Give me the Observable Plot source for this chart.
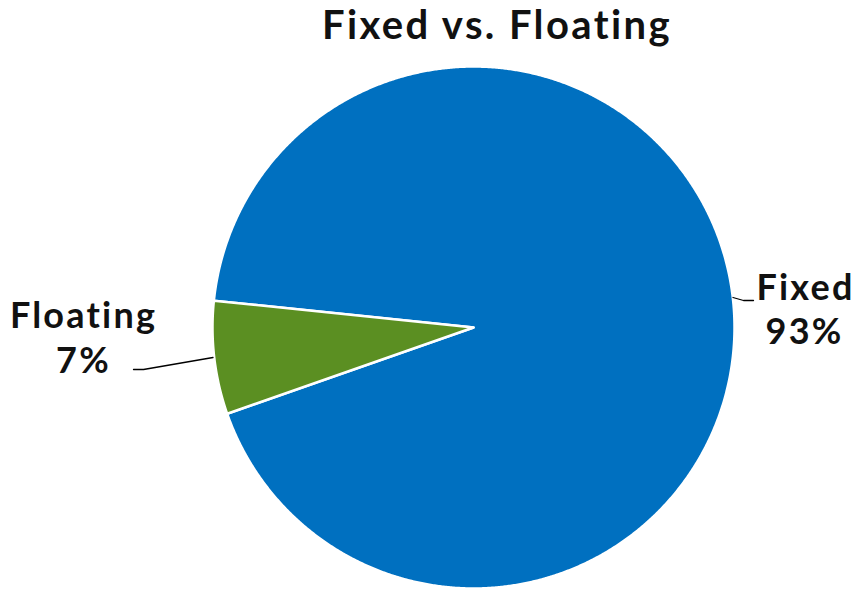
<!DOCTYPE html>
<html>
<head>
<meta charset="utf-8">
<script src="https://cdn.jsdelivr.net/npm/d3@7"></script>
<script src="https://cdn.jsdelivr.net/npm/@observablehq/plot@0.6"></script>
<style>
  html, body { margin: 0; padding: 0; background: #fff; }
  #wrap { position: relative; width: 854px; height: 590px; overflow: hidden; }
  #title { position: absolute; left: 0; top: 0; width: 854px; height: 52px;
    font-family: Lato, "Open Sans", sans-serif; font-weight: 700; font-size: 40px;
    letter-spacing: 2.4px; font-variant-ligatures: none; color: #111; }
  #title span { position: absolute; left: 497px; top: 0px; transform: translateX(-50%); white-space: nowrap; }
  #chart { position: absolute; left: 0; top: 52px; }
  #chart text { font-variant-ligatures: none; }
</style>
</head>
<body>
<div id="wrap">
  <div id="title"><span>Fixed vs. Floating</span></div>
  <div id="chart"></div>
</div>
<script>
const categories = ["Fixed", "Floating"];
const values = [93, 7];
const labels = ["93%", "7%"];
const colors = ["#0070C0", "#5B8F22"];

const W = 854, H = 538, top0 = 52;
const cx = 473, cy = 327 - top0, R = 261;

const pie = d3.pie().sort(null)
  .startAngle(-84.1 * Math.PI / 180)
  .endAngle((360 - 84.1) * Math.PI / 180);
const arcs = pie(values);

// Polygon outline of each slice, generated from the pie layout
const slicePts = [];
arcs.forEach((a, i) => {
  const n = Math.max(2, Math.ceil((a.endAngle - a.startAngle) / 0.005));
  slicePts.push({cat: categories[i], x: 0, y: 0});
  for (let j = 0; j <= n; j++) {
    const t = a.startAngle + (a.endAngle - a.startAngle) * j / n;
    slicePts.push({cat: categories[i], x: Math.sin(t), y: Math.cos(t)});
  }
  slicePts.push({cat: categories[i], x: 0, y: 0});
});

// Label layout in page pixels (converted to unit-circle coordinates)
const px = x => (x - cx) / R;
const py = y => (cy - (y - top0)) / R;
const fs = 36;
const lineY = b => b - 0.32 * fs; // baseline -> middle
const labelLayout = [
  [{x: 805, b: 299}, {x: 804, b: 343}],
  [{x: 83, b: 327}, {x: 83, b: 372}]
];
const labelData = categories.flatMap((c, i) => [
  {text: c, x: px(labelLayout[i][0].x), y: py(lineY(labelLayout[i][0].b))},
  {text: labels[i], x: px(labelLayout[i][1].x), y: py(lineY(labelLayout[i][1].b))}
]);

const leaderLayout = [
  [[732.5, 297], [743, 300], [753, 300]],
  [[212.5, 357], [143, 369], [133, 369]]
];
const leaders = leaderLayout.flatMap((pts, i) =>
  pts.map(([x, y]) => ({x: px(x), y: py(y), cat: categories[i]})));

const colorMap = new Map(categories.map((c, i) => [c, colors[i]]));

const chart = Plot.plot({
  width: W, height: H,
  margin: 0,
  style: {fontVariantLigatures: "none"},
  x: {domain: [-1, 1], range: [cx - R, cx + R], axis: null},
  y: {domain: [-1, 1], range: [cy + R, cy - R], axis: null},
  marks: [
    Plot.line(slicePts, {x: "x", y: "y", z: "cat", fill: d => colorMap.get(d.cat), stroke: "white", strokeWidth: 2.5, strokeLinejoin: "round", curve: "linear"}),
    Plot.line(leaders, {x: "x", y: "y", z: "cat", stroke: "black", strokeWidth: 1.3, curve: "linear"}),
    Plot.text(labelData, {x: "x", y: "y", text: "text", fontSize: fs, fontWeight: 700,
      fontFamily: "Lato, 'Open Sans', sans-serif", fill: "#111", textAnchor: "middle"})
  ]
});
chart.querySelectorAll("text").forEach(t => t.setAttribute("letter-spacing", "2.2"));
document.getElementById("chart").appendChild(chart);
</script>
</body>
</html>
